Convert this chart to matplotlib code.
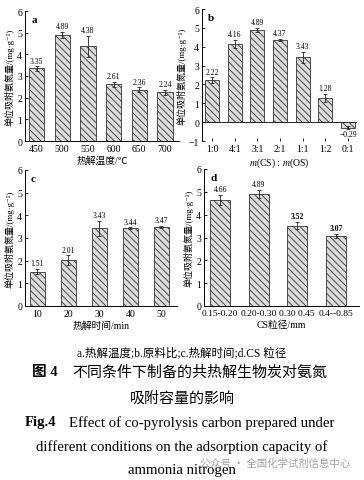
import matplotlib
matplotlib.use("Agg")
import matplotlib.pyplot as plt
import numpy as np

plt.rcParams['font.family'] = ['Liberation Serif', 'Noto Sans CJK SC', 'DejaVu Sans']
plt.rcParams['mathtext.fontset'] = 'stix'
plt.rcParams['hatch.linewidth'] = 0.6
plt.rcParams['hatch.color'] = '#444444'

# ---- data ----
temp_labels = ['450', '500', '550', '600', '650', '700']
temp_vals = [3.35, 4.89, 4.38, 2.61, 2.36, 2.24]
temp_err = [0.10, 0.15, 0.48, 0.12, 0.12, 0.12]

ratio_labels = ['1:0', '4:1', '3:1', '2:1', '1:1', '1:2', '0:1']
ratio_vals = [2.22, 4.16, 4.89, 4.37, 3.43, 1.28, -0.29]
ratio_err = [0.15, 0.22, 0.12, 0.05, 0.30, 0.22, 0.10]

time_labels = ['10', '20', '30', '40', '50']
time_vals = [1.51, 2.01, 3.43, 3.44, 3.47]
time_err = [0.12, 0.22, 0.33, 0.03, 0.05]

size_labels = ['0.15-0.20', '0.20-0.30', '0.30 0.45', '0.4--0.85']
size_vals = [4.66, 4.89, 3.52, 3.07]
size_err = [0.22, 0.18, 0.15, 0.10]

W, H = 364, 481
fig = plt.figure(figsize=(W / 100, H / 100), dpi=100)


def box(l, r, t, b):
    return [l / W, 1 - b / H, (r - l) / W, (b - t) / H]


ylab = '单位吸附氨氮量/(mg·g⁻¹)'


def panel(rect, labels, vals, errs, letter, xlabel, ylim, xlim, width,
          bold_idx=(), xtick_size=7):
    ax = fig.add_axes(rect)
    x = np.arange(len(vals))
    ax.bar(x, vals, width=width, color='#dcdcdc', edgecolor='#333333',
           linewidth=0.6, hatch='\\\\\\\\\\', zorder=2)
    ax.errorbar(x, vals, yerr=errs, fmt='none', ecolor='#222222',
                elinewidth=0.6, capsize=1.5, capthick=0.6, zorder=3)
    for i, (xi, v, e) in enumerate(zip(x, vals, errs)):
        if v >= 0:
            ax.text(xi, v + e + 0.08, f'{v:.2f}', ha='center', va='bottom',
                    fontsize=5.5, fontweight='bold' if i in bold_idx else 'normal')
        else:
            ax.text(xi, v - e - 0.05, f'{v:.2f}'.replace('-', '−'), ha='center', va='top',
                    fontsize=5.5)
    ax.set_xticks(x)
    ax.set_xticklabels(labels, fontsize=xtick_size)
    ax.set_ylim(*ylim)
    ax.set_yticks(np.arange(int(np.ceil(ylim[0])), 7))
    ax.set_xlim(*xlim)
    ax.tick_params(direction='in', length=2.5, width=0.6, pad=2)
    ax.tick_params(axis='y', labelsize=7)
    for s in ['top', 'right']:
        ax.spines[s].set_visible(False)
    for s in ['left', 'bottom']:
        ax.spines[s].set_linewidth(0.7)
    ax.set_ylabel(ylab, fontsize=6.5, labelpad=2)
    ax.set_xlabel(xlabel, fontsize=7, labelpad=2)
    ax.text(0.04, 0.97, letter, transform=ax.transAxes, fontsize=8,
            fontweight='bold', va='top', ha='left')
    return ax


panel(box(25, 179, 12, 142), temp_labels, temp_vals, temp_err, 'a',
      '热解温度/℃', (0, 6), (-0.45, 5.55), 0.6)

axb = panel(box(202, 357, 10, 142), ratio_labels, ratio_vals, ratio_err, 'b',
            '$m$(CS) : $m$(OS)', (-1, 6), (-0.45, 6.4), 0.62)
axb.spines['bottom'].set_visible(False)
axb.axhline(0, color='#222222', linewidth=0.7, zorder=4)

panel(box(25, 177, 171, 307), time_labels, time_vals, time_err, 'c',
      '热解时间/min', (0, 6), (-0.4, 4.5), 0.5)

panel(box(204, 359, 170, 307), size_labels, size_vals, size_err, 'd',
      'CS粒径/mm', (0, 6), (-0.42, 3.6), 0.52, bold_idx=(2, 3), xtick_size=6.8)

# ---- captions ----
fig.text(0.5, 1 - 353 / H, 'a.热解温度;b.原料比;c.热解时间;d.CS 粒径',
         ha='center', va='center', fontsize=8.3)
fig.text(32 / W, 1 - 373 / H, '图 4', ha='left', va='center', fontsize=10.5,
         fontweight='bold')
fig.text(327 / W, 1 - 373 / H, '不同条件下制备的共热解生物炭对氨氮', ha='right',
         va='center', fontsize=10.8)
fig.text(0.5, 1 - 398 / H, '吸附容量的影响', ha='center', va='center', fontsize=10.8)
fig.text(25 / W, 1 - 423 / H, 'Fig.4', ha='left', va='center', fontsize=10.5,
         fontweight='bold')
fig.text(334 / W, 1 - 423 / H, 'Effect of co-pyrolysis carbon prepared under',
         ha='right', va='center', fontsize=10.6)
fig.text(0.5, 1 - 447 / H, 'different conditions on the adsorption capacity of',
         ha='center', va='center', fontsize=10.6)
fig.text(0.5, 1 - 471 / H, 'ammonia nitrogen', ha='center', va='center', fontsize=10.6)
fig.text(200 / W, 1 - 464 / H, '公众号 · 全国化学试剂信息中心', ha='left', va='center',
         fontsize=7.5, color='#a0a0a0', family=['Noto Sans CJK SC', 'DejaVu Sans'])

fig.savefig('out.png', dpi=100)
